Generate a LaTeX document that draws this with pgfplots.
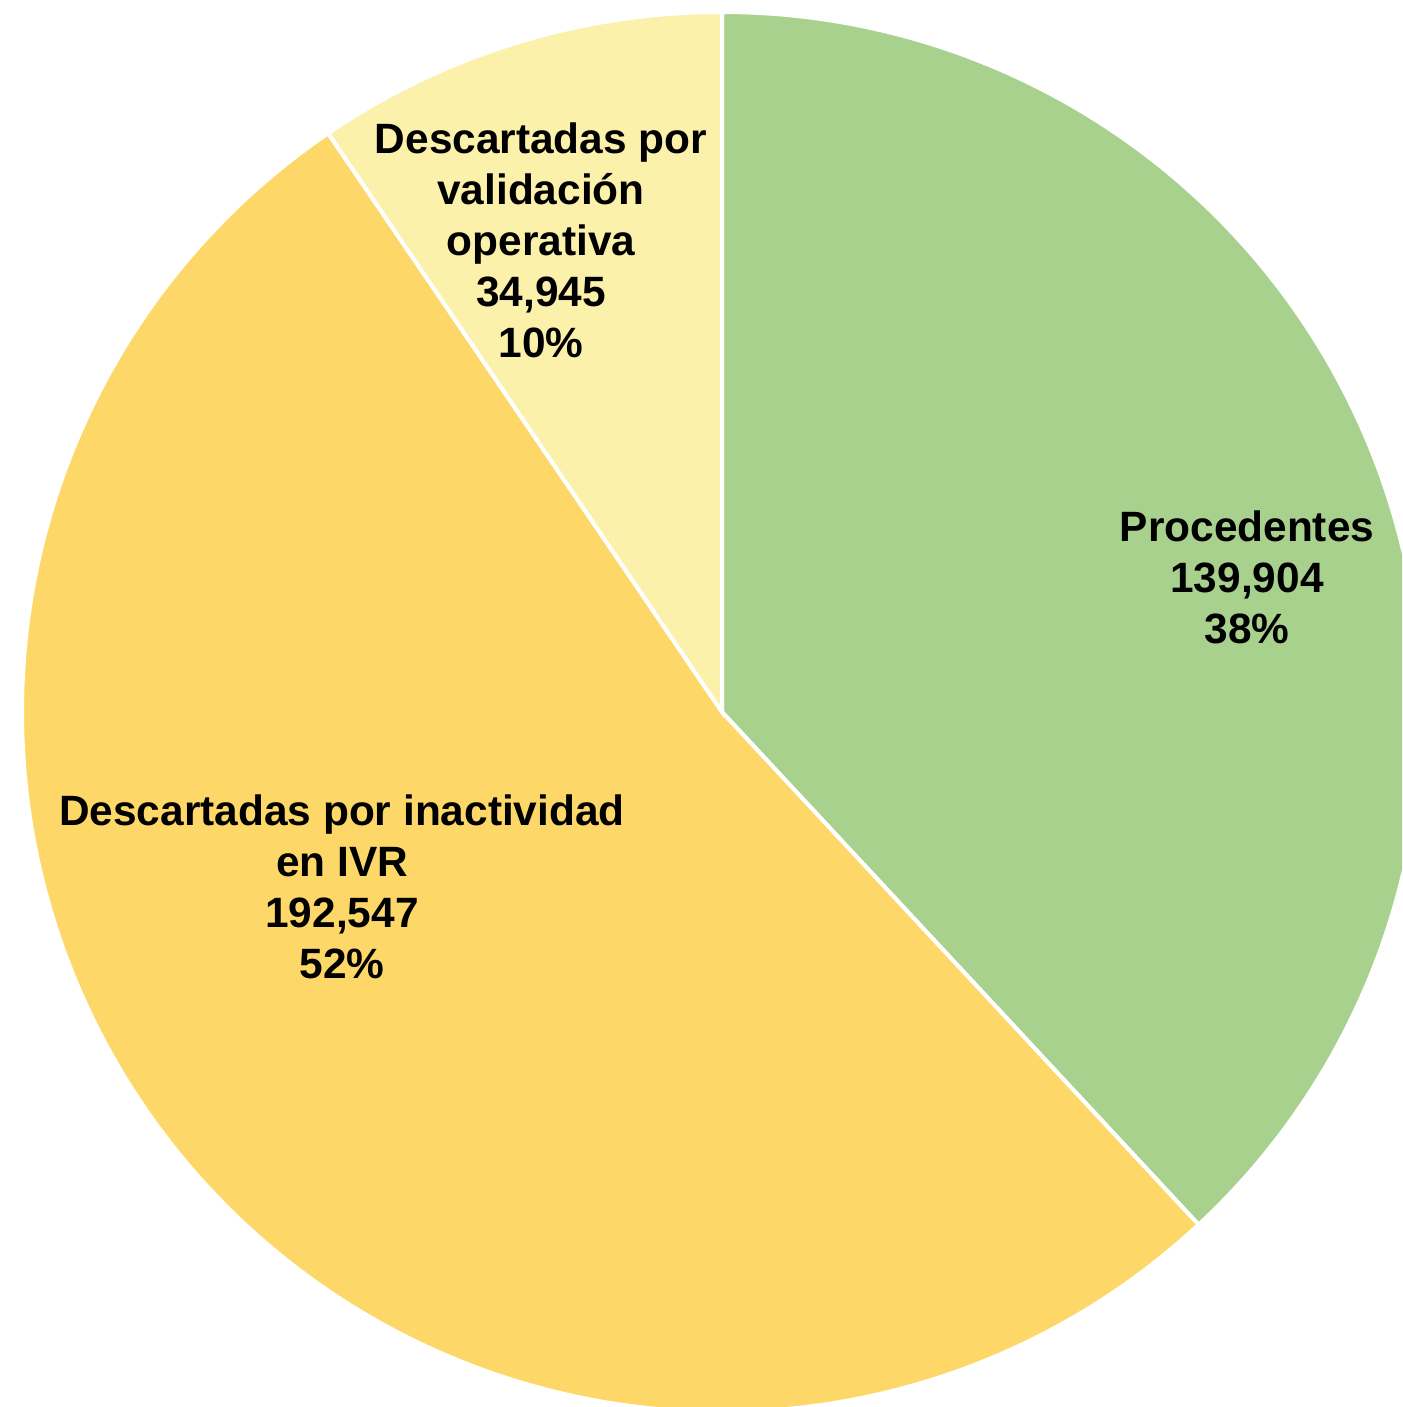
\documentclass[border=0pt]{standalone}
\usepackage{pgfplots}
\pgfplotsset{compat=1.18}
\usepackage{fontspec}
\setmainfont{Liberation Sans}
\definecolor{cGreen}{HTML}{A9D18E}
\definecolor{cGold}{HTML}{FDD868}
\definecolor{cLight}{HTML}{FCF1AA}
% values
\def\vProc{139904}
\def\vInac{192547}
\def\vVal{34945}
\edef\tot{\fpeval{\vProc+\vInac+\vVal}}
\edef\aA{90}
\edef\aB{\fpeval{round(90-360*\vProc/\tot,4)}}
\edef\aC{\fpeval{round(\aB-360*\vInac/\tot,4)}}
\edef\aD{\fpeval{round(\aC-360*\vVal/\tot,4)}}
\begin{document}
\begin{tikzpicture}
\begin{axis}[
  scale only axis, width=701pt, height=703.5pt,
  xmin=-722, xmax=680, ymin=-695, ymax=712,
  hide axis, clip=true,
  every axis plot/.append style={draw=white, line width=2pt, line join=miter, samples=240},
]
\addplot[fill=cGreen, domain=\aB:\aA] ({700*cos(x)},{700*sin(x)}) -- (axis cs:0,0) -- cycle;
\addplot[fill=cGold, domain=\aC:\aB] ({700*cos(x)},{700*sin(x)}) -- (axis cs:0,0) -- cycle;
\addplot[fill=cLight, domain=\aD:\aC] ({700*cos(x)},{700*sin(x)}) -- (axis cs:0,0) -- cycle;
\begin{scope}[every node/.style={align=center, font=\fontsize{21.2}{25.5}\selectfont\bfseries}]
\node at (axis cs:525,135) {Procedentes\\139,904\\38\%};
\node at (axis cs:-380,-175) {Descartadas por inactividad\\en IVR\\192,547\\52\%};
\node at (axis cs:-181,472) {Descartadas por\\validación\\operativa\\34,945\\10\%};
\end{scope}
\end{axis}
\pgfresetboundingbox
\path (current axis.south west) rectangle (current axis.north east);
\end{tikzpicture}
\end{document}
